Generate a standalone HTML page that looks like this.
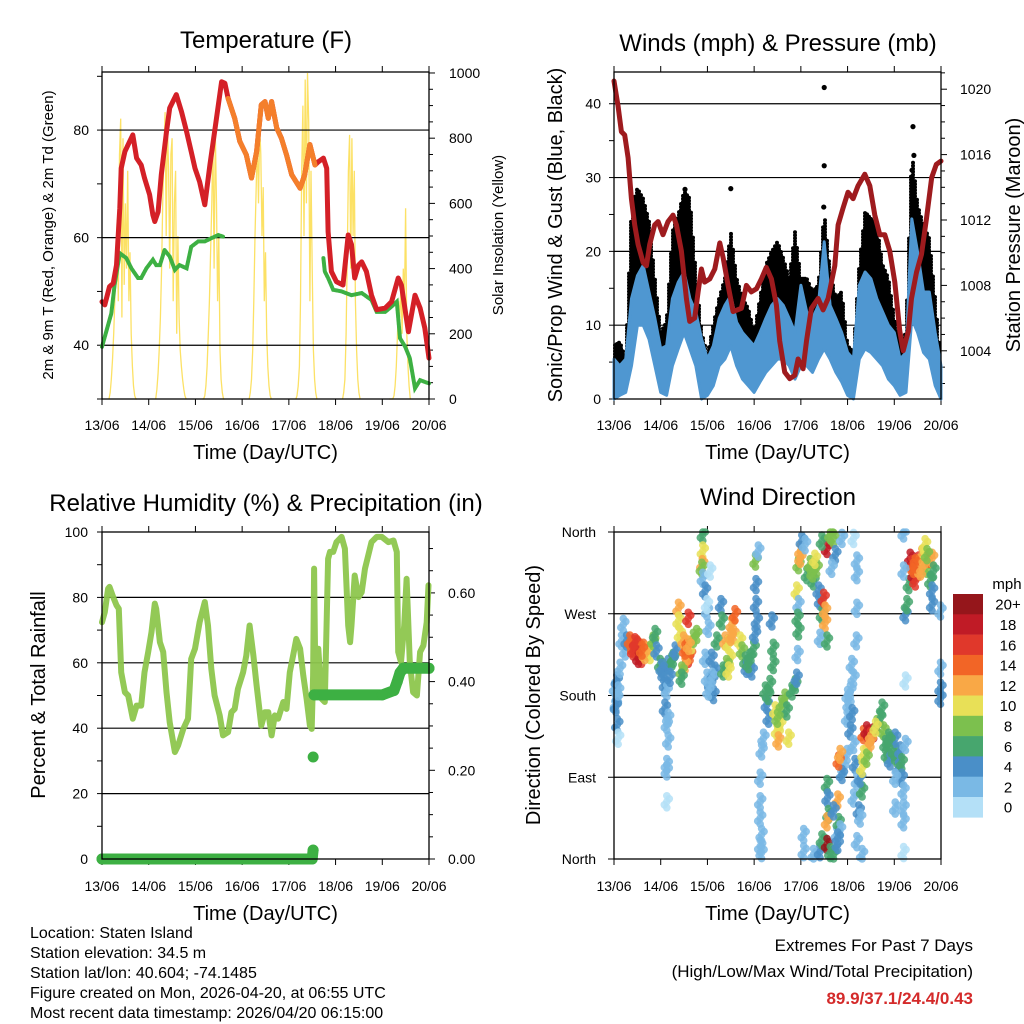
<!DOCTYPE html>
<html><head><meta charset="utf-8"><style>
html,body{margin:0;padding:0;background:#fff}
svg{display:block;font-family:"Liberation Sans",Arial,sans-serif}
</style></head><body>
<svg id="fig" width="1024" height="1024" viewBox="0 0 1024 1024" xmlns="http://www.w3.org/2000/svg">
<rect width="1024" height="1024" fill="#fff"/>
<g id="g1"></g>
<g id="g2"></g>
<g id="g3"></g>
<g id="g4"></g>
<g id="txt" font-size="16" fill="#000">
<text x="30" y="938">Location: Staten Island</text>
<text x="30" y="958">Station elevation: 34.5 m</text>
<text x="30" y="978">Station lat/lon: 40.604; -74.1485</text>
<text x="30" y="998">Figure created on Mon, 2026-04-20, at 06:55 UTC</text>
<text x="30" y="1018">Most recent data timestamp: 2026/04/20 06:15:00</text>
<text x="973" y="951" text-anchor="end" font-size="17">Extremes For Past 7 Days</text>
<text x="973" y="977" text-anchor="end" font-size="17">(High/Low/Max Wind/Total Precipitation)</text>
<text x="973" y="1004" text-anchor="end" font-size="17" font-weight="bold" fill="#d42a2a">89.9/37.1/24.4/0.43</text>
</g>
</svg>
<script>
const dayLabels=["13/06","14/06","15/06","16/06","17/06","18/06","19/06","20/06"];
// Temperature
const tempT=[0,.06,.16,.24,.31,.38,.41,.49,.56,.66,.74,.84,.91,1.02,1.09,1.13,1.2,1.27,1.38,1.45,1.59,1.7,1.81,1.91,1.99,2.09,2.2,2.31,2.41,2.56,2.63,2.7,2.84,2.95,3.09,3.2,3.31,3.41,3.49,3.56,3.63,3.74,3.84,3.95,4.06,4.24,4.34,4.45,4.56,4.63,4.74,4.81,4.84,4.91,5.02,5.16,5.27,5.34,5.41,5.49,5.56,5.66,5.77,5.88,6.06,6.2,6.34,6.41,6.56,6.7,6.81,6.91,7.0];
const tempV=[48.1,47.5,50.9,51.5,54.9,65.5,72.9,76.0,77.3,79.1,74.8,73.5,71.1,68.0,64.2,63.0,64.8,71.7,79.7,84.1,86.6,83.5,79.7,76.0,72.9,70.4,66.1,73.5,79.7,89.0,88.7,85.9,82.2,77.9,75.4,71.1,76.0,84.7,85.3,82.2,85.3,80.4,78.5,75.4,71.7,69.2,71.7,77.3,73.5,74.1,74.8,72.9,61.1,53.7,51.8,51.2,60.5,58.7,52.5,54.9,55.5,53.7,49.3,46.6,46.9,48.1,52.5,51.2,42.5,49.3,46.9,43.2,37.6];
const orangeStart=2.7, orangeEnd=4.56;
const dewT1=[0,.09,.2,.27,.38,.52,.63,.77,.84,.95,1.09,1.16,1.24,1.34,1.45,1.56,1.66,1.81,1.91,2.06,2.2,2.34,2.49,2.59];
const dewV1=[39.7,42.5,45.9,51.2,57.1,56.2,54.3,52.5,52.5,54.3,55.9,54.9,54.9,57.7,56.5,54.0,54.9,54.3,58.3,59.3,59.3,59.9,60.5,60.2];
const dewT2=[4.74,4.77,4.84,4.95,5.13,5.34,5.56,5.77,5.88,6.06,6.2,6.31,6.38,6.49,6.59,6.7,6.81,7.0];
const dewV2=[56.2,53.7,52.5,50.3,50.0,49.3,49.7,48.4,46.2,46.2,47.2,48.1,41.3,39.7,37.6,32.0,33.5,32.9];
const solarStart=[0.15,1.15,2.15,3.15,4.15,5.15,6.15];
const solarStep=0.025;
const solarDay0=[0,20,60,120,200,300,420,550,300,750,860,250,800,350,600,400,700,300,450,200,100,40,10,0,0];
const solarDay1=[0,30,80,150,250,400,600,750,880,500,850,700,400,750,800,300,600,700,200,500,250,150,100,60,30,10,0];
const solarDay2=[0,0,10,40,100,200,300,450,600,800,400,820,600,300,500,150,60,20,0,0];
const solarDay3=[0,20,60,150,300,500,650,800,600,840,750,500,650,300,450,200,100,40,10,0];
const solarDay4=[0,10,40,100,300,700,900,500,980,600,1000,850,300,700,400,150,60,20,0];
const solarDay5=[0,20,60,200,450,700,810,400,800,500,700,300,150,60,20,0];
const solarDay6=[0,0,0,0,10,40,100,200,300,250,350,200,400,300,585,200,100,40,0];
// Winds
const windStep=0.125;
const windHigh=[5.4,4.5,5.4,13.6,16.7,18.1,14.5,10.9,6.8,7.2,13.6,15.8,17.2,13.6,11.8,8.1,5.4,7.2,10.9,12.7,14.0,10.4,9.0,8.1,7.2,9.0,10.9,12.7,13.6,12.7,10.9,9.0,15.4,11.8,10.9,12.7,21.3,12.7,10.9,9.0,6.3,5.4,15.4,17.2,16.3,13.6,11.8,10.0,9.0,5.4,6.3,24.4,19.9,14.5,14.5,9.0,4.5];
const windLow=[0,0.5,0.9,4.5,10,10,8.1,4.5,0.9,0.5,4.5,6.8,9.0,6.8,4.5,0,0.5,1.8,4.5,5.4,7.2,4.5,2.7,1.8,0.9,2.3,3.6,4.5,5.4,5.4,4.5,2.7,4.5,4.5,3.6,5.4,6.8,5.4,3.6,2.3,0.5,0,5.4,6.8,6.3,5.4,4.5,2.7,1.8,0.5,0.9,10.9,9.0,6.3,5.4,1.8,0];
const gustHigh=[7.2,7.7,5.4,25.8,28.5,27.1,24.0,16.3,9.0,10.4,22.6,24.9,28.1,27.1,17.2,9.0,5.9,10.0,13.6,16.3,22.6,16.3,13.6,12.2,9.0,13.6,18.1,19.9,21.3,19.0,16.3,22.6,16.3,16.3,14.5,15.4,25.3,17.2,13.6,14.5,7.2,6.3,18.1,25.3,24.4,23.5,18.1,16.3,10.9,7.2,9.0,33.5,26.2,23.5,21.7,13.6,4.5];
const gustOutT=[4.5,4.5,4.49,6.4,6.42,2.5,1.52,6.38];
const gustOutV=[42.2,31.6,26.0,36.9,33.0,28.5,28.4,31.0];
const presT=[0,.086,.158,.229,.301,.372,.443,.515,.622,.693,.765,.872,.943,1.05,1.157,1.264,1.335,1.442,1.55,1.62,1.728,1.8,1.87,1.94,2.05,2.157,2.264,2.335,2.442,2.55,2.727,2.834,2.94,3.05,3.155,3.26,3.37,3.477,3.548,3.655,3.762,3.87,3.94,4.048,4.12,4.226,4.37,4.476,4.583,4.726,4.797,4.9,5.01,5.118,5.225,5.368,5.475,5.582,5.69,5.797,5.904,6.01,6.118,6.19,6.3,6.368,6.475,6.582,6.69,6.8,6.9,7.0];
const presV=[1020.5,1019.0,1017.4,1017.2,1015.8,1013.3,1011.7,1010.5,1009.4,1009.2,1010.5,1011.7,1011.9,1011.1,1011.9,1012.3,1011.7,1010.1,1007.2,1005.8,1006.0,1007.6,1009.0,1008.2,1008.4,1009.0,1010.6,1009.7,1008.0,1006.4,1006.6,1008.0,1007.6,1007.8,1008.4,1009.1,1008.4,1006.8,1004.6,1002.7,1002.3,1002.5,1003.5,1002.9,1004.6,1006.6,1007.2,1006.5,1007.2,1009.2,1011.7,1012.7,1013.7,1013.3,1014.1,1014.8,1014.1,1012.3,1011.1,1011.1,1010.1,1008.2,1005.2,1004.0,1005.2,1007.2,1008.8,1009.9,1012.1,1014.6,1015.4,1015.6];
// Humidity & precipitation
const rhT=[0,.06,.13,.16,.24,.31,.36,.41,.49,.56,.66,.74,.84,.91,.99,1.06,1.13,1.16,1.24,1.31,1.38,1.45,1.56,1.63,1.74,1.84,1.91,1.99,2.09,2.2,2.27,2.34,2.41,2.52,2.59,2.7,2.77,2.84,2.91,3.02,3.09,3.16,3.24,3.31,3.41,3.49,3.56,3.63,3.7,3.77,3.88,3.95,4.02,4.09,4.16,4.24,4.31,4.38,4.45,4.49,4.52,4.54,4.57,4.63,4.7,4.77,4.84,4.88,4.95,5.02,5.13,5.2,5.27,5.31,5.34,5.41,5.49,5.56,5.63,5.7,5.77,5.88,5.99,6.13,6.24,6.31,6.34,6.4,6.47,6.52,6.59,6.66,6.74,6.81,6.88,6.95,6.99];
const rhV=[72.4,75.5,82.7,83.2,80.1,77.6,76.5,57.1,51.0,50.0,42.9,46.9,46.9,57.1,63.3,69.4,78.1,76.5,66.3,63.3,51.0,41.8,32.7,34.7,39.8,42.9,61.2,64.3,72.4,78.6,71.4,58.2,50.0,43.9,37.8,38.8,44.9,45.9,52.0,57.1,62.2,71.4,62.2,53.1,40.8,44.9,44.9,37.8,43.9,42.9,48.0,45.9,57.1,62.2,67.3,64.3,56.1,49.0,40.8,39.8,56.1,88.8,51.0,64.3,49.0,48.0,91.8,93.9,93.9,96.9,98.5,94.9,71.4,66.3,71.4,86.7,80.1,81.6,88.8,92.9,96.9,98.5,98.5,96.9,97.4,93.9,63.3,60.2,71.4,85.7,60.2,51.0,50.0,63.3,65.3,72.4,83.7];
const precipT=[0,4.5,4.52,4.52,4.54,6.0,6.25,6.32,6.38,6.45,7.0];
const precipV=[0,0,0.02,0.23,0.37,0.37,0.38,0.40,0.42,0.43,0.43];
// Wind direction (time in days, direction in degrees, speed in mph)
const dirT=[.02,.04,.06,.07,.04,.07,.09,.2,.24,.16,.27,.09,.13,
.34,.41,.49,.56,.59,.63,.7,.77,.84,.41,.52,.66,.45,.6,
.88,.91,.99,1.06,1.09,1.13,1.16,1.24,1.27,1.31,1.09,1.13,1.16,1.13,1.13,1.13,1.16,1.02,1.2,
1.38,1.38,1.41,1.49,1.56,1.59,1.63,1.52,1.66,1.7,1.77,1.59,1.45,1.45,1.52,1.6,
1.9,1.9,1.89,1.88,1.9,1.95,1.99,2.02,1.95,1.99,2.06,2.13,2.16,2.09,1.99,2.06,2.29,2.2,2.02,2.1,
2.31,2.38,2.45,2.49,2.52,2.56,2.59,2.41,2.34,2.7,2.74,2.45,2.5,
2.81,2.84,2.91,2.95,2.99,3.02,3.04,3.04,3.03,3.09,3.06,2.88,
3.24,3.27,3.31,3.34,3.41,3.41,3.38,3.45,3.49,3.56,3.52,3.59,3.66,3.7,3.74,3.81,3.88,3.91,3.16,3.13,3.13,3.13,3.16,3.13,3.16,3.2,3.3,3.5,
3.95,3.99,3.99,4.02,4.09,4.13,4.2,4.27,4.34,4.38,4.41,4.45,4.49,4.52,4.52,4.56,4.45,4.63,4.7,4.74,4.66,4.41,4.56,3.91,3.95,3.93,3.95,3.93,4.25,4.3,
4.06,4.06,4.27,4.41,4.45,4.56,4.63,4.7,4.79,4.77,4.81,4.84,4.56,4.57,4.59,4.56,4.79,4.7,4.79,
4.88,5.13,5.2,5.2,5.2,5.19,5.09,5.13,5.06,5.02,4.99,5.06,5.13,4.99,4.91,4.88,4.81,4.84,5.16,5.2,5.13,5.24,5.27,5.2,5.31,5.31,5.27,5.0,5.1,
5.34,5.41,5.49,5.56,5.45,5.34,5.31,5.41,5.63,5.7,5.74,5.77,5.81,5.84,5.88,5.91,5.99,6.02,6.06,6.09,6.13,6.16,6.24,6.16,6.2,6.02,6.02,6.2,6.2,6.2,6.24,6.2,5.5,5.6,5.9,
6.24,6.27,6.31,6.34,6.38,6.41,6.45,6.41,6.52,6.56,6.59,6.63,6.66,6.7,6.74,6.77,6.81,6.81,6.81,6.84,6.2,6.99,6.99,6.99,6.99,6.45,6.6,6.7];
const dirV=[188,170,196,177,168,148,133,258,229,240,240,185,210,
240,232,236,225,221,232,229,225,240,229,221,225,238,230,
247,229,214,203,192,185,214,218,221,229,166,148,130,104,97,63,155,210,200,
276,262,247,240,232,221,225,214,236,243,247,265,207,199,230,235,
357,339,324,320,309,295,273,254,221,199,192,181,207,221,280,317,280,240,185,200,
262,240,236,221,258,247,269,214,207,240,229,207,245,
218,210,221,207,232,247,280,302,328,339,262,215,
185,170,155,192,214,232,262,163,141,148,130,170,177,163,133,185,192,199,119,89,63,45,27,14,7,133,180,155,
324,331,339,350,346,313,324,306,320,295,284,269,287,273,260,342,350,357,353,335,320,243,240,295,280,265,251,225,315,330,
27,8,5,8,21,16,7,5,16,27,40,32,82,67,49,41,65,53,23,
353,353,328,313,276,240,214,199,185,170,155,141,126,115,100,93,108,115,104,86,67,53,45,19,5,75,89,180,160,
137,141,135,139,126,115,100,111,148,155,166,141,126,115,133,108,119,133,111,100,119,106,126,89,75,89,56,56,41,7,196,359,130,145,130,
269,280,302,331,324,313,306,320,328,317,335,331,346,320,331,306,331,295,280,317,317,273,210,177,188,325,320,335];
const dirS=[3,2,4,3,4,4,1,2,3,3,4,2,3,
14,15,14,18,17,15,12,10,8,16,19,13,16,14,
6,5,6,4,4,3,5,6,7,5,4,3,3,3,2,1,3,5,4,
12,11,10,13,14,16,15,12,11,9,8,16,9,7,15,13,
6,10,12,8,3,4,3,3,2,3,4,4,4,4,1,1,4,6,2,3,
7,12,10,11,13,12,14,9,6,10,8,10,13,
6,5,6,5,7,4,4,4,9,2,4,6,
6,5,5,7,6,6,5,10,11,10,12,9,8,7,11,7,6,5,2,2,2,2,2,2,2,3,6,9,
8,12,13,4,3,6,8,7,9,5,5,6,16,12,13,18,7,9,8,4,3,3,6,10,3,6,6,2,8,10,
3,3,2,4,6,20,6,6,4,3,6,3,6,5,6,12,13,4,5,
2,1,2,3,3,2,3,2,3,2,3,4,3,2,3,4,14,12,4,3,2,4,2,2,2,6,4,3,4,
15,18,16,18,12,10,10,9,8,7,7,8,7,6,6,5,6,4,6,5,5,6,3,4,3,3,3,3,2,1,1,2,12,10,7,
4,6,7,18,17,18,17,14,16,13,12,11,10,9,14,7,13,4,4,6,2,2,2,4,4,15,12,8];
const cbLabels=["0","2","4","6","8","10","12","14","16","18","20+"];
const cbColors=["#b4e0f7","#7ab9e5","#4a8fc8","#47a66e","#7cc04e","#e8e057","#f9a846","#f26526","#e0382b","#c01b26","#95161b"];

const NS="http://www.w3.org/2000/svg";
function mk(parent,tag,attrs,text){const e=document.createElementNS(NS,tag);for(const k in attrs)e.setAttribute(k,attrs[k]);if(text!==undefined)e.textContent=text;parent.appendChild(e);return e;}
function lin(d0,d1,r0,r1){return v=>r0+(v-d0)*(r1-r0)/(d1-d0);}
function pathOf(ts,vs,fx,fy){let d="";for(let i=0;i<ts.length;i++){d+=(i?"L":"M")+fx(ts[i]).toFixed(1)+" "+fy(vs[i]).toFixed(1);}return d;}

function frame(g,X0,X1,Y0,Y1,xlabY){
  const fx=lin(0,7,X0,X1);
  for(let d=0;d<=7;d++){
    const x=fx(d);
    const tb=mk(g,"line",{x1:x,x2:x,y1:Y1,y2:Y1+6,stroke:"#000","stroke-width":1});
    
    
    const tt=mk(g,"line",{x1:x,x2:x,y1:Y0,y2:Y0-6,stroke:"#000","stroke-width":1});
    
    
    const lb=mk(g,"text",{x:x,y:xlabY,"text-anchor":"middle","font-size":14},dayLabels[d]);
    
    
  }
  const t=mk(g,"text",{x:(X0+X1)/2,y:xlabY+29,"text-anchor":"middle","font-size":20},"Time (Day/UTC)");
  
  
  return fx;
}
function border(g,X0,X1,Y0,Y1){
  const r=mk(g,"rect",{x:X0,y:Y0,width:X1-X0,height:Y1-Y0,fill:"none",stroke:"#000","stroke-width":1.3});
  
  
}
function grid(g,X0,X1,y){
  const l=mk(g,"line",{x1:X0,x2:X1,y1:y,y2:y,stroke:"#000","stroke-width":1.2});
  
  
}
function ytick(g,x,y,len,label,anchor,lx){
  const l=mk(g,"line",{x1:x,x2:x+len,y1:y,y2:y,stroke:"#000","stroke-width":1});
  
  
  if(label!==null){
    const t=mk(g,"text",{x:lx,y:y+5,"text-anchor":anchor,"font-size":14},label);
    
    
  }
}
function vtitle(g,x,y,size,txt,name){
  const t=mk(g,"text",{x:x,y:y,"text-anchor":"middle","font-size":size,transform:`rotate(-90 ${x} ${y})`},txt);
  
  
}
function title(g,x,y,txt,name){
  const t=mk(g,"text",{x:x,y:y,"text-anchor":"middle","font-size":24},txt);
  
  
}

// ---------- Panel 1: Temperature ----------
(function(){
  const g=document.getElementById("g1");
  const X0=102,X1=429,Y0=72,Y1=399;
  const fx=frame(g,X0,X1,Y0,Y1,430);
  const fy=lin(30,90.8,Y1,Y0);
  const fs=lin(0,1003,Y1,Y0);
  for(let v=30;v<=90;v+=10)ytick(g,X0,fy(v),-5,(v%20===0)?String(v):null,"end",89);
  for(let w=0;w<=1000;w+=50)ytick(g,X1,fs(w),w%200===0?6:4,w%200===0?String(w):null,"start",449);
  const sol=[solarDay0,solarDay1,solarDay2,solarDay3,solarDay4,solarDay5,solarDay6];
  const sg=mk(g,"g",{});
  
  
  sol.forEach((arr,d)=>{
    const ts=arr.map((_,i)=>solarStart[d]+i*solarStep);
    const p=mk(sg,"path",{d:pathOf(ts,arr,fx,fs),fill:"none",stroke:"#fbdc4a","stroke-width":1.3,opacity:0.85});
    
    
  });
  [40,60,80].forEach(v=>grid(g,X0,X1,fy(v)));
  const d1=mk(g,"path",{d:pathOf(dewT1,dewV1,fx,fy),fill:"none",stroke:"#3db043","stroke-width":4,"stroke-dasharray":"2.5 1","stroke-linecap":"round"});
  
  
  const d2=mk(g,"path",{d:pathOf(dewT2,dewV2,fx,fy),fill:"none",stroke:"#3db043","stroke-width":4,"stroke-dasharray":"2.5 1","stroke-linecap":"round"});
  
  
  const r=mk(g,"path",{d:pathOf(tempT,tempV,fx,fy),fill:"none",stroke:"#d42027","stroke-width":5,"stroke-linejoin":"round","stroke-linecap":"round"});
  
  
  const oi=[];tempT.forEach((t,i)=>{if(t>=orangeStart&&t<=orangeEnd)oi.push(i);});
  const o=mk(g,"path",{d:pathOf(oi.map(i=>tempT[i]),oi.map(i=>tempV[i]),fx,fy),fill:"none",stroke:"#f47f2b","stroke-width":5,"stroke-linejoin":"round","stroke-linecap":"round"});
  
  
  border(g,X0,X1,Y0,Y1);
  title(g,266,48,"Temperature (F)","temperature-title");
  vtitle(g,53,235,15,"2m & 9m T (Red, Orange) & 2m Td (Green)","temperature-y-title");
  vtitle(g,503,235,15,"Solar Insolation (Yellow)","solar-y-title");
})();

// ---------- Panel 2: Winds ----------
(function(){
  const g=document.getElementById("g2");
  const X0=614,X1=941,Y0=72,Y1=399;
  const fx=frame(g,X0,X1,Y0,Y1,430);
  const fy=lin(0,44.3,Y1,Y0);
  const fp=lin(1012,1013,220,220-16.35);
  for(let v=0;v<=40;v+=5)ytick(g,X0,fy(v),-5,v%10===0?String(v):null,"end",601);
  for(let p=1002;p<=1021;p++)ytick(g,X1,fp(p),p%4===0?6:4,p%4===0?String(p):null,"start",960);
  [10,20,30,40].forEach(v=>grid(g,X0,X1,fy(v)));
  const wt=windHigh.map((_,i)=>i*windStep);
  const interp=(arr,t)=>{const f=t/windStep;const i=Math.min(arr.length-2,Math.floor(f));const a=f-i;return arr[i]*(1-a)+arr[i+1]*a;};
  const gg=mk(g,"g",{fill:"#000"});
  
  
  let dd="";
  for(let x=X0+1;x<X1;x+=2){
    const t=(x-X0)/(X1-X0)*7;
    const top=fy(interp(gustHigh,t)), bot=fy(interp(windLow,t)+1);
    for(let y=top;y<=bot;y+=3){dd+=`M${x-2} ${y.toFixed(1)}a2 2 0 1 0 4 0a2 2 0 1 0 -4 0`;}
  }
  const gp=mk(gg,"path",{d:dd});
  
  
  gustOutT.forEach((t,i)=>{
    const c=mk(gg,"circle",{cx:fx(t),cy:fy(gustOutV[i]),r:2.6});
    
    
  });
  let bp="";
  wt.forEach((t,i)=>{bp+=(i?"L":"M")+fx(t).toFixed(1)+" "+fy(windHigh[i]).toFixed(1);});
  for(let i=wt.length-1;i>=0;i--)bp+="L"+fx(wt[i]).toFixed(1)+" "+fy(windLow[i]).toFixed(1);
  const b=mk(g,"path",{d:bp+"Z",fill:"#4f97d1",stroke:"#4f97d1","stroke-width":3,"stroke-linejoin":"round"});
  
  
  const p=mk(g,"path",{d:pathOf(presT,presV,fx,fp),fill:"none",stroke:"#9e1b1e","stroke-width":5,"stroke-linejoin":"round","stroke-linecap":"round"});
  
  
  border(g,X0,X1,Y0,Y1);
  title(g,778,51,"Winds (mph) & Pressure (mb)","winds-title");
  vtitle(g,562,235,20,"Sonic/Prop Wind & Gust (Blue, Black)","wind-y-title");
  vtitle(g,1020,235,20,"Station Pressure (Maroon)","pressure-y-title");
})();

// ---------- Panel 3: RH & precip ----------
(function(){
  const g=document.getElementById("g3");
  const X0=102,X1=429,Y0=532,Y1=859;
  const fx=frame(g,X0,X1,Y0,Y1,891);
  const fy=lin(0,100,Y1,Y0);
  const fr=lin(0,0.2,Y1,Y1-88.7);
  for(let v=0;v<=100;v+=10)ytick(g,X0,fy(v),-5,v%20===0?String(v):null,"end",88);
  for(let k=0;k<=14;k++){const v=k*0.05;ytick(g,X1,fr(v),k%4===0?6:4,k%4===0?v.toFixed(2):null,"start",448);}
  [20,40,60,80].forEach(v=>grid(g,X0,X1,fy(v)));
  const l=mk(g,"path",{d:pathOf(rhT,rhV,fx,fy),fill:"none",stroke:"#8dc64d","stroke-width":6,"stroke-linejoin":"round","stroke-linecap":"round",opacity:0.95});
  
  
  const pg=mk(g,"g",{});
  
  
  let d="";
  for(let i=0;i<precipT.length;i++){
    const jump=i>0&&Math.abs(precipV[i]-precipV[i-1])>0.05;
    d+=((i===0||jump)?"M":"L")+fx(precipT[i]).toFixed(1)+" "+fr(precipV[i]).toFixed(1);
  }
  const pp=mk(pg,"path",{d:d,fill:"none",stroke:"#3db043","stroke-width":11,"stroke-linecap":"round","stroke-linejoin":"round"});
  
  
  precipT.forEach((t,i)=>{
    const c=mk(pg,"circle",{cx:fx(t),cy:fr(precipV[i]),r:5.5,fill:"#3db043"});
    
    
  });
  border(g,X0,X1,Y0,Y1);
  title(g,266,511,"Relative Humidity (%) & Precipitation (in)","humidity-title");
  vtitle(g,45,695,20,"Percent & Total Rainfall","humidity-y-title");
})();

// ---------- Panel 4: Wind direction ----------
(function(){
  const g=document.getElementById("g4");
  const X0=614,X1=941,Y0=532,Y1=859;
  const fx=frame(g,X0,X1,Y0,Y1,891);
  const fy=lin(0,360,Y1,Y0);
  const names=["North","East","South","West","North"];
  for(let k=0;k<=4;k++)ytick(g,X0,fy(k*90),-6,names[k],"end",596);
  [90,180,270].forEach(v=>grid(g,X0,X1,fy(v)));
  const sg=mk(g,"g",{});
  
  
  const blob=[[0,-6],[0,0],[0,6],[2.5,-3],[-2.5,3]];
  dirT.forEach((t,i)=>{
    const ci=Math.min(10,Math.floor(dirS[i]/2));
    const cx=fx(t), cy=fy(Math.min(360,dirV[i]));
    blob.forEach(o=>{
      const y=Math.max(Y0,Math.min(Y1,cy+o[1]));
      const c=mk(sg,"circle",{cx:(cx+o[0]).toFixed(1),cy:y.toFixed(1),r:3.8,fill:cbColors[ci],opacity:0.85});
      
      
    });
  });
  border(g,X0,X1,Y0,Y1);
  title(g,778,505,"Wind Direction","wind-direction-title");
  vtitle(g,540,695,20,"Direction (Colored By Speed)","direction-y-title");
  const cb=mk(g,"g",{});
  
  
  const bh=20.3, btop=594;
  for(let k=10;k>=0;k--){
    const y=btop+(10-k)*bh;
    const r=mk(cb,"rect",{x:953,y:y,width:30,height:bh+0.3,fill:cbColors[k]});
    
    
    const t=mk(cb,"text",{x:1008,y:y+bh/2+5.5,"text-anchor":"middle","font-size":15},cbLabels[k]);
    
    
  }
  const u=mk(cb,"text",{x:1007,y:589,"text-anchor":"middle","font-size":15},"mph");
  
  
})();
</script>
</body></html>
